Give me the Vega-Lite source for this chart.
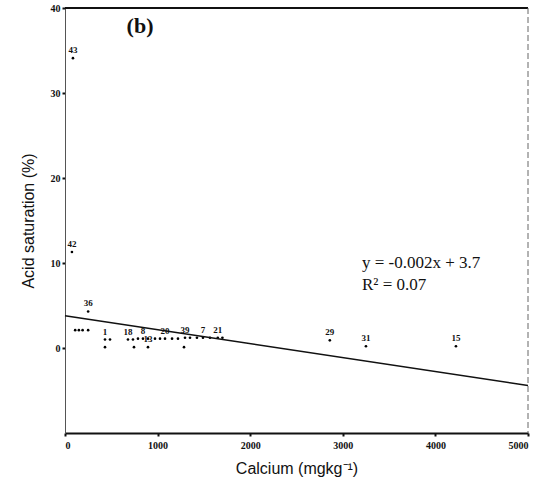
{
  "$schema": "https://vega.github.io/schema/vega-lite/v6.json",
  "width": 463,
  "height": 425,
  "autosize": "none",
  "padding": {"left": 65, "top": 8, "right": 18, "bottom": 62},
  "background": "white",
  "config": {
    "view": {"stroke": null},
    "font": "Liberation Serif",
    "axis": {"grid": false}
  },
  "datasets": {
    "pts": [
      {"ca": 86, "acid": 34.1, "lab": "43"},
      {"ca": 75, "acid": 11.3, "lab": "42"},
      {"ca": 250, "acid": 4.3, "lab": "36"},
      {"ca": 110, "acid": 2.1, "lab": ""},
      {"ca": 150, "acid": 2.1, "lab": ""},
      {"ca": 190, "acid": 2.1, "lab": ""},
      {"ca": 250, "acid": 2.1, "lab": ""},
      {"ca": 432, "acid": 1.0, "lab": "1"},
      {"ca": 486, "acid": 1.0, "lab": ""},
      {"ca": 680, "acid": 1.0, "lab": "18"},
      {"ca": 734, "acid": 1.0, "lab": ""},
      {"ca": 788, "acid": 1.1, "lab": ""},
      {"ca": 842, "acid": 1.1, "lab": "8"},
      {"ca": 896, "acid": 1.1, "lab": ""},
      {"ca": 972, "acid": 1.1, "lab": ""},
      {"ca": 1026, "acid": 1.1, "lab": ""},
      {"ca": 1080, "acid": 1.1, "lab": "20"},
      {"ca": 1156, "acid": 1.1, "lab": ""},
      {"ca": 1220, "acid": 1.1, "lab": ""},
      {"ca": 1296, "acid": 1.2, "lab": "39"},
      {"ca": 1350, "acid": 1.2, "lab": ""},
      {"ca": 1425, "acid": 1.2, "lab": ""},
      {"ca": 1490, "acid": 1.2, "lab": "7"},
      {"ca": 1566, "acid": 1.2, "lab": ""},
      {"ca": 1650, "acid": 1.2, "lab": "21"},
      {"ca": 1700, "acid": 1.2, "lab": ""},
      {"ca": 432, "acid": 0.1, "lab": ""},
      {"ca": 745, "acid": 0.1, "lab": ""},
      {"ca": 896, "acid": 0.1, "lab": "13"},
      {"ca": 1285, "acid": 0.1, "lab": ""},
      {"ca": 2860, "acid": 0.9, "lab": "29"},
      {"ca": 3250, "acid": 0.2, "lab": "31"},
      {"ca": 4222, "acid": 0.2, "lab": "15"}
    ],
    "fit": [
      {"ca": 0, "acid": 3.8},
      {"ca": 5000, "acid": -4.4}
    ],
    "notes": [
      {"ca": 810, "acid": 37.9, "txt": "(b)", "kind": "title"},
      {"ca": 3207, "acid": 10.0, "txt": "y = -0.002x + 3.7", "kind": "eq"},
      {"ca": 3207, "acid": 7.4, "txt": "R² = 0.07", "kind": "eq"}
    ]
  },
  "layer": [
    {
      "data": {"name": "pts"},
      "mark": {"type": "circle", "fill": "black", "opacity": 1, "size": 7},
      "encoding": {
        "x": {
          "field": "ca", "type": "quantitative",
          "scale": {"domain": [0, 5000], "nice": false},
          "axis": {
            "values": [0, 1000, 2000, 3000, 4000, 5000],
            "format": "d",
            "title": "Calcium (mgkg⁻¹)",
            "titleFont": "Liberation Sans",
            "titleFontWeight": "normal",
            "titleFontSize": 16,
            "titleColor": "#111",
            "titlePadding": 10,
            "labelFont": "Liberation Serif",
            "labelFontSize": 10,
            "labelFontWeight": "bold",
            "labelColor": "#111",
            "labelPadding": 4,
            "domainColor": "#111",
            "domainWidth": 2,
            "tickColor": "#111",
            "tickSize": 3,
            "tickWidth": 2
          }
        },
        "y": {
          "field": "acid", "type": "quantitative",
          "scale": {"domain": [-10, 40], "nice": false},
          "axis": {
            "values": [0, 10, 20, 30, 40],
            "format": "d",
            "title": "Acid saturation (%)",
            "titleFont": "Liberation Sans",
            "titleFontWeight": "normal",
            "titleFontSize": 16,
            "titleColor": "#111",
            "titlePadding": 14,
            "labelFont": "Liberation Serif",
            "labelFontSize": 10,
            "labelFontWeight": "bold",
            "labelColor": "#111",
            "labelPadding": 2,
            "domainColor": "#555",
            "domainWidth": 1,
            "tickColor": "#111",
            "tickSize": 3,
            "tickWidth": 2
          }
        }
      }
    },
    {
      "data": {"name": "pts"},
      "mark": {"type": "text", "font": "Liberation Serif", "fontSize": 9, "fontWeight": "bold", "dy": -8, "fill": "#111"},
      "encoding": {
        "x": {"field": "ca", "type": "quantitative"},
        "y": {"field": "acid", "type": "quantitative"},
        "text": {"field": "lab", "type": "nominal"}
      }
    },
    {
      "data": {"name": "fit"},
      "mark": {"type": "line", "stroke": "#111", "strokeWidth": 1.5},
      "encoding": {
        "x": {"field": "ca", "type": "quantitative"},
        "y": {"field": "acid", "type": "quantitative"}
      }
    },
    {
      "data": {"values": [{"v": 40}]},
      "mark": {"type": "rule", "stroke": "#111", "strokeWidth": 2},
      "encoding": {"y": {"field": "v", "type": "quantitative"}}
    },
    {
      "data": {"values": [{"v": 5000}]},
      "mark": {"type": "rule", "stroke": "#666", "strokeWidth": 1, "strokeDash": [6, 3]},
      "encoding": {"x": {"field": "v", "type": "quantitative"}}
    },
    {
      "data": {"name": "notes"},
      "transform": [{"filter": "datum.kind == 'title'"}],
      "mark": {"type": "text", "font": "Liberation Serif", "fontSize": 22, "fontWeight": "bold", "fill": "#111", "align": "center", "baseline": "middle"},
      "encoding": {
        "x": {"field": "ca", "type": "quantitative"},
        "y": {"field": "acid", "type": "quantitative"},
        "text": {"field": "txt", "type": "nominal"}
      }
    },
    {
      "data": {"name": "notes"},
      "transform": [{"filter": "datum.kind == 'eq'"}],
      "mark": {"type": "text", "font": "Liberation Serif", "fontSize": 17, "fill": "#111", "align": "left", "baseline": "middle"},
      "encoding": {
        "x": {"field": "ca", "type": "quantitative"},
        "y": {"field": "acid", "type": "quantitative"},
        "text": {"field": "txt", "type": "nominal"}
      }
    }
  ]
}
